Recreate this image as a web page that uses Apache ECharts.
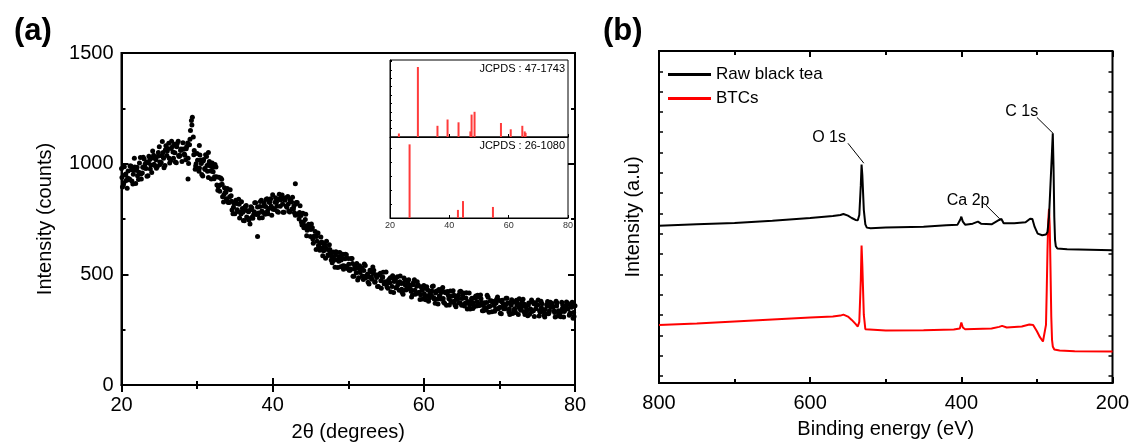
<!DOCTYPE html>
<html>
<head>
<meta charset="utf-8">
<script src="https://cdn.jsdelivr.net/npm/echarts@6/dist/echarts.min.js"></script>
<style>html,body{margin:0;padding:0;background:#fff}#c{width:1136px;height:447px}</style>
</head>
<body>
<div id="c"></div>
<script>
// ---------- Panel (a): XRD (three interleaved samplings of the noisy band) ----------
const xrdStep = 0.25;
const xrdStartA = 20, xrdStartB = 20.125, xrdStartC = 20.0625;
const xrdA = [
978,904,950,889, 927,990,908,985, 970,929,1028,958, 1021,978,945,1019, 960,1038,1023,987,
1076,1005,1051,992, 1037,1092,1013,1077, 1088,1004,1101,1037, 1010,1066,1018,1093, 1085,1195,1120,975,
1046,966,1017,944, 978,1032,937,990, 1003,932,985,880, 875,930,827,871, 888,825,855,774,
774,820,839,781, 797,742,811,753, 727,800,772,823, 804,755,835,779, 772,841,797,841,
859,793,826,781, 808,858,781,846, 852,782,827,796, 767,825,750,766, 776,720,674,726,
671,710,673,612, 687,609,646,606, 573,612,634,565, 601,532,599,559, 534,591,538,588,
572,518,572,491, 529,474,539,523, 477,540,491,456, 511,533,464,486, 445,505,486,458,
510,437,462,485, 418,474,489,428, 459,410,475,435, 476,433,408,476, 413,452,386,428,
449,385,430,393, 406,447,369,425, 431,389,441,369, 360,404,425,374, 406,353,390,421,
360,416,370,343, 416,374,346,395, 357,399,407,335, 372,339,397,356, 331,376,342,398,
382,322,366,344, 392,331,374,323, 344,383,318,364, 378,331,353,313, 320,384,335,372,
360,312,378,339, 307,364,322,374, 368,334,378,312, 325,374,307,349, 370,315,357,302,
358];
const xrdB = [
895,986,924,967, 990,922,972,910, 945,1003,931,1029, 998,943,1033,994, 1057,992,979,1050,
996,1037,982,1081, 1069,1003,1101,1025, 1008,1091,1032,1066, 1095,1038,1077,1001, 1150,1210,1060,1000,
977,1039,951,1019, 1040,966,1010,931, 963,996,904,939, 935,850,891,842, 824,882,791,821,
835,784,755,828, 743,806,787,746, 805,753,823,770, 777,829,756,822, 838,774,828,767,
798,846,784,862, 853,780,835,803, 786,837,848,778, 825,770,810,723, 710,772,706,721,
727,641,694,649, 623,669,584,634, 650,585,601,552, 569,602,531,599, 576,523,591,526,
518,572,491,537, 549,485,518,493, 547,494,464,518, 478,519,498,445, 498,437,509,467,
443,477,421,494, 483,439,460,492, 419,483,429,463, 452,398,463,410, 467,418,444,389,
401,444,378,422, 445,389,424,366, 401,433,374,417, 422,361,401,426, 361,400,371,424,
404,357,417,372, 343,392,354,402, 405,360,373,336, 347,405,329,381, 373,333,387,346,
324,383,353,392, 370,318,385,335, 328,371,390,343, 387,318,339,370, 343,375,310,362,
384,330,367,315, 322,377,335,362, 353,307,371,328, 308,361,337,375, 364,325,374,310];
const xrdC = [
938,914,953,935, 931,972,952,971, 984,961,953,984, 980,1006,1004,976, 1026,997,1018,1034,
1007,1036,1024,1063, 1057,1025,1068,1053, 1049,1076,1037,1059, 1065,1044,1067,1024, 1110,1175,1040,990,
1015,980,1001,1012, 974,992,1000,967, 983,941,941,896, 904,907,861,871, 830,850,830,803,
822,792,817,773, 781,796,759,783, 792,760,783,773, 773,807,786,809, 806,786,824,808,
794,826,808,839, 836,817,844,809, 818,835,795,809, 818,773,779,735, 737,748,699,709,
702,660,672,671, 630,642,620,637, 619,588,612,583, 562,586,566,579, 565,539,570,534,
545,524,549,524, 507,527,508,527, 517,485,501,487, 488,505,466,490, 499,471,488,457,
459,471,485,445, 468,439,453,467, 433,460,451,435, 442,424,453,428, 446,418,408,432,
412,437,403,418, 425,394,416,388, 403,418,391,420, 416,390,380,403, 379,393,405,372,
391,364,393,377, 362,388,371,392, 376,359,390,360, 350,373,354,380, 378,359,370,344,
351,376,344,360, 369,345,361,374, 335,361,350,338, 357,365,332,360, 341,332,367,345,
363,337,349,332, 341,357,326,351, 352,328,357,335, 327,345,332,357, 343,321,351,328];
const xrdOutX = [28.8, 38.0, 43.0, 30.3, 21.7, 25.4, 31.5];
const xrdOutY = [931, 671, 909, 1082, 1025, 1100, 1050];

// inset stick patterns
const jcpdsAPos = [23.0, 29.4, 36.0, 39.4, 43.1, 47.1, 47.5, 48.5, 57.4, 60.7, 64.6, 65.4, 65.7];
const jcpdsAInt = [5, 100, 16, 25, 21, 8, 32, 36, 20, 11, 16, 8, 6];
const jcpdsBPos = [26.6, 42.9, 44.6, 54.7];
const jcpdsBInt = [100, 11, 23, 15];
const jcpdsALabel = 'JCPDS : 47-1743';
const jcpdsBLabel = 'JCPDS : 26-1080';

// ---------- Panel (b): XPS ----------
const xpsRawE = [800,750,700,650,600,570,560,556,550,545,540,537,535,533,532,531,529,527,525,520,500,450,420,405,401,400,398,395,385,378,374,360,350,347,344,330,315,309,306,303,299,293,288,286,284,282,280,279,278,277,276,275,273,260,200];
const xpsRawI = [47.4,47.8,48.2,48.9,49.7,50.3,50.6,50.9,50.4,49.7,49.1,49.0,50.6,59.6,65.8,62.7,52.1,47.8,46.8,46.6,46.8,47.1,47.5,47.7,49.4,50.1,48.6,47.7,48.0,48.6,48.0,47.8,49.1,49.4,48.1,48.1,48.4,49.5,49.4,47.0,45.0,44.5,44.7,45.5,50.0,60.0,70.0,75.2,65.0,50.0,43.0,41.2,40.5,40.3,40.0];
const xpsBtcE = [800,750,700,650,600,570,560,556,550,545,540,537,535,533,532,531,529,527,525,500,450,410,402,400,398,395,360,350,346,340,320,310,305,300,296,292,290,288,287,286,285,284,283,282,281,280,279,277,270,250,200];
const xpsBtcI = [17.5,17.9,18.5,19.1,19.7,20.0,20.3,20.6,20.0,19.0,17.8,17.0,18.4,31.0,41.4,35.5,20.5,16.2,15.6,15.8,15.9,16.1,16.4,18.2,16.7,16.2,16.4,16.9,17.2,16.7,17.0,17.6,17.5,15.6,13.8,12.5,12.9,17.5,28.0,40.0,49.0,52.5,47.0,34.0,20.0,13.0,11.0,10.1,9.8,9.6,9.5];
const seriesNames = ['Raw black tea', 'BTCs'];
const annoText = ['O 1s', 'Ca 2p', 'C 1s'];
const annoTextE = [575, 391, 320];
const annoTextI = [74, 54.8, 81.6];
const annoLineFrom = [[550, 72.2], [367.5, 53.6], [300, 80]];
const annoLineTo = [[529, 66.2], [349, 49.4], [278.6, 75.2]];

// ---------- build ----------
const FONT = "'Liberation Sans', Arial, Helvetica, sans-serif";
const chart = echarts.init(document.getElementById('c'), null, {renderer: 'canvas'});

const toPts = (arr, start) => arr.map((v, i) => [start + i * xrdStep, v]);
const ptsA = toPts(xrdA, xrdStartA);
const ptsB = toPts(xrdB, xrdStartB);
const ptsC = toPts(xrdC, xrdStartC);
const ptsO = xrdOutX.map((x, i) => [x, xrdOutY[i]]);
const barsA = jcpdsAPos.map((x, i) => [x, jcpdsAInt[i]]);
const barsB = jcpdsBPos.map((x, i) => [x, jcpdsBInt[i]]);
const raw = xpsRawE.map((e, i) => [e, xpsRawI[i]]);
const btc = xpsBtcE.map((e, i) => [e, xpsBtcI[i]]);

const black = '#000';
const tickIn = (len, w) => ({show: true, inside: true, length: len, lineStyle: {color: black, width: w}});
const minor = (len, w) => ({show: true, splitNumber: 2, length: len, lineStyle: {color: black, width: w}});
const noLabel = {show: false};
const noSplit = {show: false};
const lbl = {color: black, fontSize: 20, fontFamily: FONT};
const plain = v => String(v);
const dot = {color: black, opacity: 1};

chart.setOption({
  animation: false,
  textStyle: {fontFamily: FONT},
  title: [
    {text: '(a)', left: 9, top: 11, textStyle: {fontSize: 31, fontWeight: 'bold', color: black, fontFamily: FONT}},
    {text: '(b)', left: 598, top: 11, textStyle: {fontSize: 31, fontWeight: 'bold', color: black, fontFamily: FONT}}
  ],
  legend: {
    data: seriesNames, orient: 'vertical', left: 663, top: 61, itemWidth: 43, itemHeight: 3,
    itemGap: 7, icon: 'rect', textStyle: {fontSize: 17, color: black, fontFamily: FONT}
  },
  grid: [
    {left: 121.5, top: 53, width: 453.5, height: 332.5, show: true, borderColor: black, borderWidth: 2},
    {left: 659, top: 51, width: 453.5, height: 332, show: true, borderColor: black, borderWidth: 2},
    {left: 390, top: 60, width: 178, height: 77, show: true, borderColor: black, borderWidth: 1, backgroundColor: '#fff'},
    {left: 390, top: 137, width: 178, height: 81, show: true, borderColor: black, borderWidth: 1, backgroundColor: '#fff'}
  ],
  xAxis: [
    {gridIndex: 0, type: 'value', min: 20, max: 80, interval: 20, position: 'bottom',
     name: '2θ (degrees)', nameLocation: 'middle', nameGap: 37, nameTextStyle: lbl,
     axisLine: {show: true, lineStyle: {color: black, width: 2}}, axisTick: tickIn(7, 2), minorTick: minor(4, 2),
     axisLabel: Object.assign({margin: 10, formatter: plain}, lbl), splitLine: noSplit},
    {gridIndex: 0, type: 'value', min: 20, max: 80, interval: 20, position: 'top',
     axisLine: {show: false}, axisTick: tickIn(7, 2), minorTick: minor(4, 2), axisLabel: noLabel, splitLine: noSplit},
    {gridIndex: 1, type: 'value', min: 200, max: 800, interval: 200, inverse: true, position: 'bottom',
     name: 'Binding energy (eV)', nameLocation: 'middle', nameGap: 36, nameTextStyle: lbl,
     axisLine: {show: true, lineStyle: {color: black, width: 2}}, axisTick: tickIn(6, 2), minorTick: minor(4, 2),
     axisLabel: Object.assign({margin: 10, formatter: plain}, lbl), splitLine: noSplit},
    {gridIndex: 1, type: 'value', min: 200, max: 800, interval: 200, inverse: true, position: 'top',
     axisLine: {show: false}, axisTick: tickIn(6, 2), minorTick: minor(4, 2), axisLabel: noLabel, splitLine: noSplit},
    {gridIndex: 2, type: 'value', min: 20, max: 80, interval: 20, position: 'bottom',
     axisLine: {show: true, lineStyle: {color: black, width: 1}}, axisTick: tickIn(3, 1), axisLabel: noLabel, splitLine: noSplit},
    {gridIndex: 3, type: 'value', min: 20, max: 80, interval: 20, position: 'bottom',
     axisLine: {show: true, lineStyle: {color: black, width: 1}}, axisTick: tickIn(3, 1),
     axisLabel: {show: true, fontSize: 9, color: '#333', margin: 3, fontFamily: FONT}, splitLine: noSplit}
  ],
  yAxis: [
    {gridIndex: 0, type: 'value', min: 0, max: 1500, interval: 500, position: 'left',
     name: 'Intensity (counts)', nameLocation: 'middle', nameGap: 66, nameTextStyle: lbl,
     axisLine: {show: true, lineStyle: {color: black, width: 2}}, axisTick: tickIn(7, 2), minorTick: minor(4, 2),
     axisLabel: Object.assign({margin: 8, formatter: plain}, lbl), splitLine: noSplit},
    {gridIndex: 0, type: 'value', min: 0, max: 1500, interval: 500, position: 'right',
     axisLine: {show: false}, axisTick: tickIn(7, 2), minorTick: minor(4, 2), axisLabel: noLabel, splitLine: noSplit},
    {gridIndex: 1, type: 'value', min: 0, max: 100, position: 'left',
     name: 'Intensity (a.u)', nameLocation: 'middle', nameGap: 16, nameTextStyle: lbl,
     axisLine: {show: true, lineStyle: {color: black, width: 2}}, axisTick: {show: false}, axisLabel: noLabel, splitLine: noSplit},
    {gridIndex: 1, type: 'value', min: 0, max: 16.35, interval: 1, inverse: true, position: 'left',
     axisLine: {show: false}, axisTick: tickIn(4, 1.5), axisLabel: noLabel, splitLine: noSplit},
    {gridIndex: 1, type: 'value', min: 0, max: 16.35, interval: 1, inverse: true, position: 'right',
     axisLine: {show: false}, axisTick: tickIn(4, 1.5), axisLabel: noLabel, splitLine: noSplit},
    {gridIndex: 2, type: 'value', min: 0, max: 110, interval: 12, position: 'left',
     axisLine: {show: true, lineStyle: {color: black, width: 1}}, axisTick: tickIn(2, 1), axisLabel: noLabel, splitLine: noSplit},
    {gridIndex: 3, type: 'value', min: 0, max: 110, interval: 19, position: 'left',
     axisLine: {show: true, lineStyle: {color: black, width: 1}}, axisTick: tickIn(2, 1), axisLabel: noLabel, splitLine: noSplit}
  ],
  graphic: [
    {type: 'text', right: 571, top: 63, z: 10, style: {text: jcpdsALabel, fontSize: 11, fill: black, fontFamily: FONT}},
    {type: 'text', right: 571, top: 140, z: 10, style: {text: jcpdsBLabel, fontSize: 11, fill: black, fontFamily: FONT}}
  ],
  series: [
    {name: 'xrdA', type: 'scatter', xAxisIndex: 0, yAxisIndex: 0, data: ptsA, symbolSize: 5, itemStyle: dot, silent: true},
    {name: 'xrdB', type: 'scatter', xAxisIndex: 0, yAxisIndex: 0, data: ptsB, symbolSize: 5, itemStyle: dot, silent: true},
    {name: 'xrdC', type: 'scatter', xAxisIndex: 0, yAxisIndex: 0, data: ptsC, symbolSize: 5, itemStyle: dot, silent: true},
    {name: 'xrdOut', type: 'scatter', xAxisIndex: 0, yAxisIndex: 0, data: ptsO, symbolSize: 5, itemStyle: dot, silent: true},
    {name: 'jcpdsA', type: 'bar', xAxisIndex: 4, yAxisIndex: 5, data: barsA, barWidth: 2, itemStyle: {color: '#ff3b3b'}, silent: true},
    {name: 'jcpdsB', type: 'bar', xAxisIndex: 5, yAxisIndex: 6, data: barsB, barWidth: 2, itemStyle: {color: '#ff3b3b'}, silent: true},
    {name: seriesNames[0], type: 'line', xAxisIndex: 2, yAxisIndex: 2, data: raw, showSymbol: false, symbol: 'none',
     lineStyle: {color: black, width: 2}, itemStyle: {color: black}, z: 3,
     markLine: {silent: true, symbol: 'none', label: {show: false}, lineStyle: {color: black, width: 1, type: 'solid'},
       data: annoLineFrom.map((p, i) => [{coord: p}, {coord: annoLineTo[i]}])},
     markPoint: {silent: true, symbol: 'circle', symbolSize: 0,
       label: {show: true, position: 'inside', color: black, fontSize: 16, fontFamily: FONT, formatter: p => p.name},
       data: annoText.map((t, i) => ({name: t, coord: [annoTextE[i], annoTextI[i]]}))}},
    {name: seriesNames[1], type: 'line', xAxisIndex: 2, yAxisIndex: 2, data: btc, showSymbol: false, symbol: 'none',
     lineStyle: {color: '#ff0000', width: 2}, itemStyle: {color: '#ff0000'}, z: 2}
  ]
});
</script>
</body>
</html>
